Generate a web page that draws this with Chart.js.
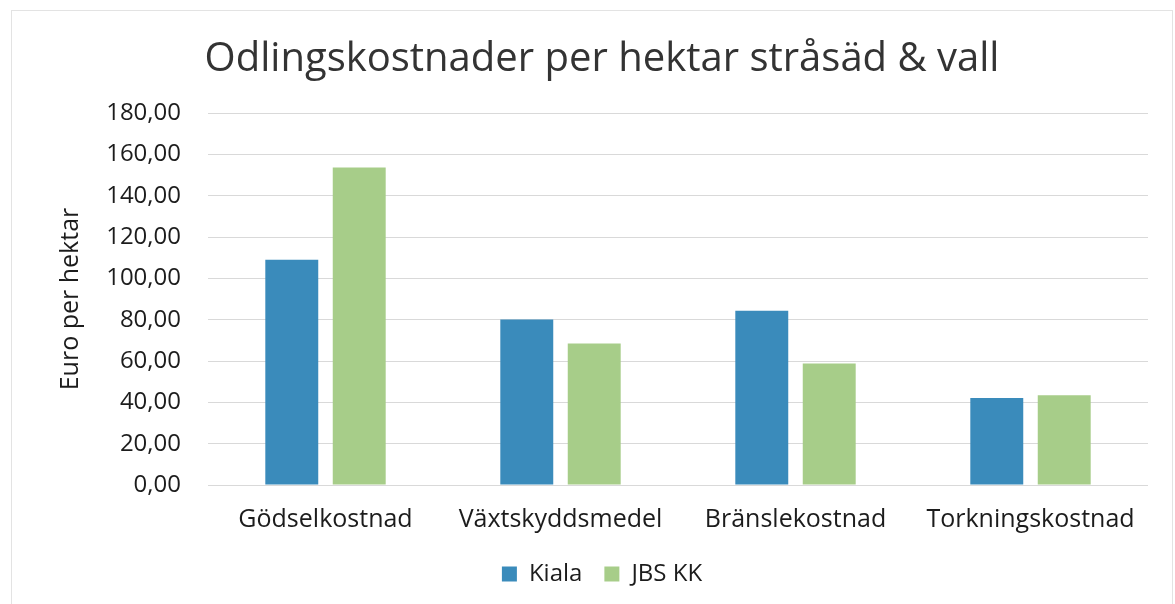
<!DOCTYPE html>
<html>
<head>
<meta charset="utf-8">
<script src="https://cdn.jsdelivr.net/npm/chart.js@4.4.1/dist/chart.umd.min.js"></script>
<style>
  html, body { margin: 0; padding: 0; background: #fff; }
  #frame { position: absolute; left: 0; top: 0; width: 1175px; height: 604px; }
  #border { position: absolute; left: 11px; top: 10px; width: 1162px; height: 600px; border: 1px solid #e3e3e3; box-sizing: border-box; }
</style>
</head>
<body>
<div id="border"></div>
<div id="frame"><canvas id="chart" width="1175" height="604"></canvas></div>
<script>
  // Odlingskostnader per hektar (euro)
  var categories = ['Gödselkostnad', 'Växtskyddsmedel', 'Bränslekostnad', 'Torkningskostnad'];
  var kiala = [109.0, 80.1, 84.3, 42.1];
  var jbsKK = [153.6, 68.5, 58.8, 43.4];
  var seriesNames = ['Kiala', 'JBS KK'];
  var yMin = 0, yMax = 180, yStep = 20;

  var FONT = "'Open Sans', sans-serif";
  var TEXT = '#1c1c1c';

  function sv(n) { return Number(n).toFixed(2).replace('.', ','); }

  new Chart(document.getElementById('chart'), {
    type: 'bar',
    data: {
      labels: categories,
      datasets: [
        { label: seriesNames[0], data: kiala, backgroundColor: '#3a8bbb' },
        { label: seriesNames[1], data: jbsKK, backgroundColor: '#a7cd89' }
      ]
    },
    options: {
      responsive: false,
      animation: false,
      devicePixelRatio: 1,
      categoryPercentage: 0.574,
      barPercentage: 0.785,
      layout: { padding: { left: 56, right: 27, top: 0, bottom: 8 } },
      plugins: {
        title: {
          display: true,
          text: 'Odlingskostnader per hektar stråsäd & vall',
          color: '#333333',
          font: { family: FONT, size: 40, weight: 'normal' },
          padding: { top: 36, bottom: 29 }
        },
        legend: {
          position: 'bottom',
          labels: {
            color: TEXT,
            font: { family: FONT, size: 24 },
            boxWidth: 15, boxHeight: 15, padding: 22
          }
        },
        tooltip: { enabled: false }
      },
      scales: {
        x: {
          grid: { display: false },
          border: { display: false },
          ticks: { color: TEXT, font: { family: FONT, size: 25 }, padding: 12 },
          afterFit: function (s) { s.height = 55; }
        },
        y: {
          min: yMin, max: yMax,
          grid: { color: '#d9d9d9', drawTicks: false },
          border: { display: false },
          ticks: {
            stepSize: yStep, color: TEXT, padding: 27,
            font: { family: FONT, size: 24 },
            callback: function (v) { return sv(v); }
          },
          title: {
            display: true, text: 'Euro per hektar', color: TEXT, padding: 0,
            font: { family: FONT, size: 25 }
          },
          afterFit: function (s) { s.width = 152; }
        }
      }
    }
  });
</script>
</body>
</html>
